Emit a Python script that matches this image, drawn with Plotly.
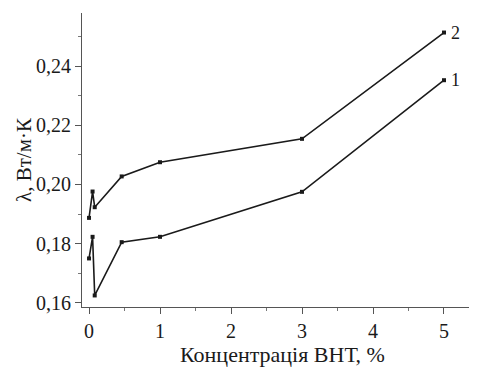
import plotly.graph_objects as go

conc = [0, 0.05, 0.08, 0.46, 1, 3, 5]
lam_1 = [0.175, 0.1823, 0.1625, 0.1805, 0.1823, 0.1975, 0.2352]
lam_2 = [0.1887, 0.1976, 0.1923, 0.2027, 0.2075, 0.2154, 0.2513]
series_labels = ["1", "2"]
x_ticks = [0, 1, 2, 3, 4, 5]
y_ticks = [0.16, 0.18, 0.20, 0.22, 0.24]
y_tick_text = ["0,16", "0,18", "0,20", "0,22", "0,24"]

FONT = "'Liberation Serif', 'DejaVu Serif', serif"
ink = "#1a1a1a"

# the page has an 8px body margin, so the figure is sized to end at the 477x369 window edge
W, H = 469, 361
L, T, B = 74, 5, 62
plot_h = H - T - B
plot_w = W - L

fig = go.Figure()
for ys, lab in [(lam_1, series_labels[0]), (lam_2, series_labels[1])]:
    fig.add_trace(go.Scatter(
        x=conc, y=ys, mode="lines+markers",
        line=dict(color=ink, width=1.6),
        marker=dict(color=ink, size=4, symbol="square"),
        showlegend=False,
    ))
    fig.add_annotation(x=conc[-1], y=ys[-1], text=lab, showarrow=False,
                       xanchor="left", xshift=5, yanchor="middle",
                       font=dict(family=FONT, size=18, color=ink))

fig.add_annotation(xref="paper", yref="paper", x=(274 - L) / plot_w, y=-47 / plot_h,
                   yanchor="middle", xanchor="center",
                   text="Концентрація ВНТ, %", showarrow=False,
                   font=dict(family=FONT, size=22, color=ink))
fig.add_annotation(xref="paper", yref="paper", x=-58 / plot_w, y=0.5, xanchor="center",
                   text="λ, Вт/м·К", textangle=-90, showarrow=False,
                   font=dict(family=FONT, size=21, color=ink))

fig.update_layout(
    width=W, height=H,
    margin=dict(l=L, r=0, t=T, b=B, autoexpand=False),
    paper_bgcolor="white", plot_bgcolor="white",
    font=dict(family=FONT, size=20, color=ink),
)
fig.update_xaxes(
    range=[-0.099, 5.465], tickvals=x_ticks, ticktext=[str(v) for v in x_ticks],
    automargin=False,
    showgrid=False, zeroline=False, showline=True, linecolor="#555", linewidth=1.2,
    ticks="outside", ticklen=6, tickcolor="#555", tickwidth=1.2,
    minor=dict(ticks="outside", ticklen=3, tickcolor="#777", dtick=0.5, tick0=0),
    tickfont=dict(family=FONT, size=20, color=ink),
)
fig.update_yaxes(
    range=[0.1586, 0.2579], tickvals=y_ticks, ticktext=y_tick_text,
    automargin=False,
    showgrid=False, zeroline=False, showline=True, linecolor="#555", linewidth=1.2,
    ticks="outside", ticklen=6, tickcolor="#555", tickwidth=1.2,
    minor=dict(ticks="outside", ticklen=3, tickcolor="#777", dtick=0.01, tick0=0.16),
    tickfont=dict(family=FONT, size=20, color=ink),
)

fig.write_html("out.html")
